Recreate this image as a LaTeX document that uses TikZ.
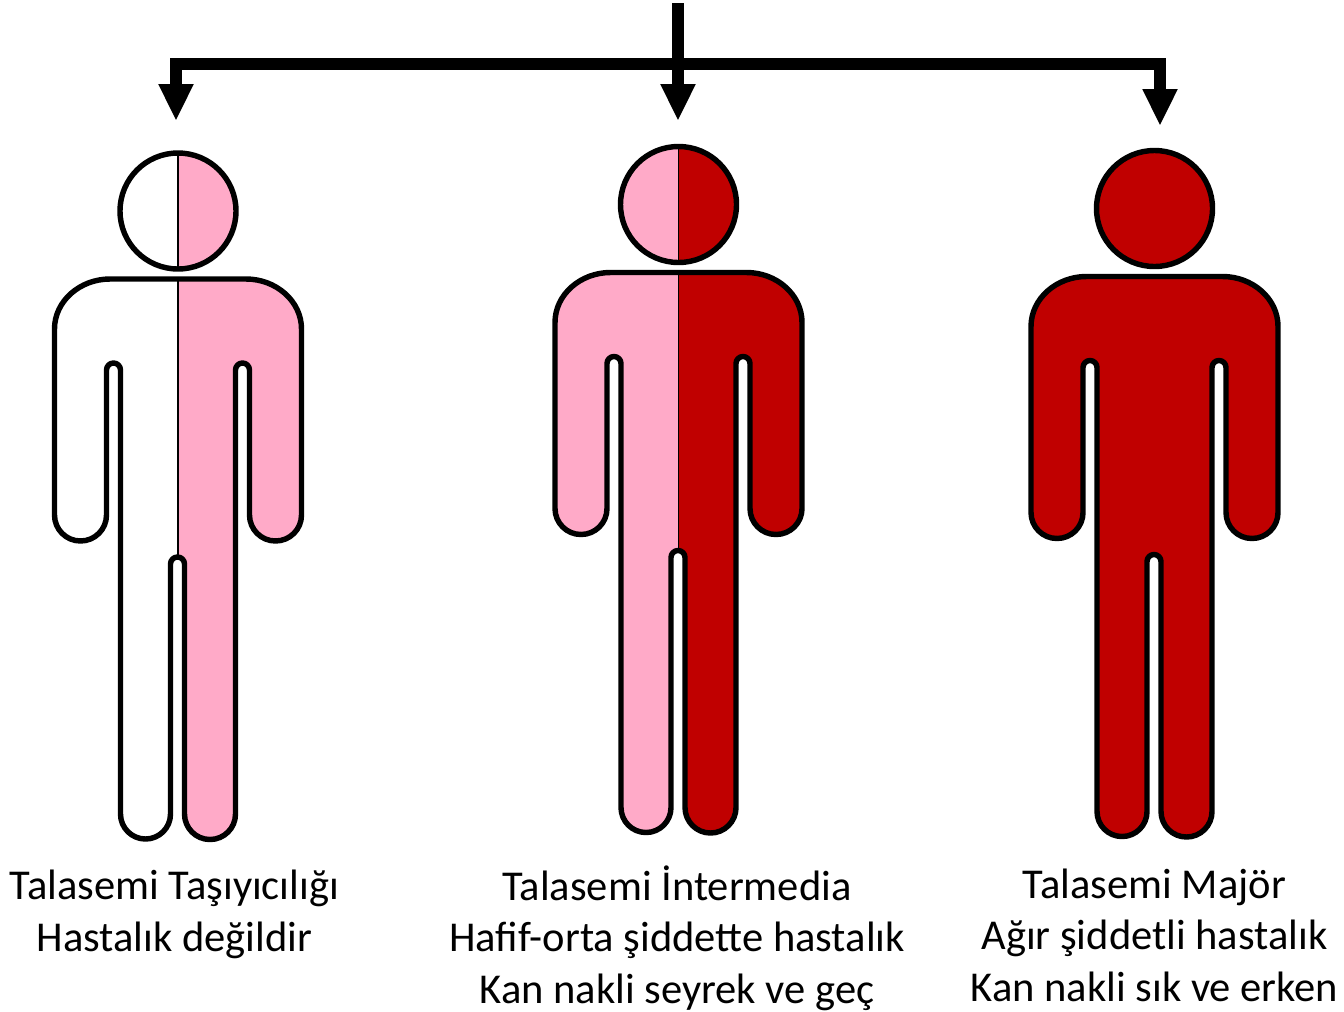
\documentclass[tikz,border=0pt]{standalone}
\usepackage{fontspec}
\setmainfont{Carlito}
\usetikzlibrary{arrows.meta}
\definecolor{carrier}{RGB}{255,170,200}
\definecolor{major}{RGB}{192,0,0}
% outline of a figure around x=0, units are pixels of the 1344 wide picture
\newcommand{\headshape}{(0,211) circle (58)}
\newcommand{\bodyshape}{(-68,279) -- (68,279) .. controls (98,279) and (123.5,301) .. (123.5,329)
  -- (123.5,515) arc (0:180:26) -- (71.5,370) arc (0:-180:7) -- (57.5,814) arc (0:180:25.5)
  -- (6.5,564) arc (0:-180:7) -- (-7.5,814) arc (0:180:25) -- (-57.5,370) arc (0:-180:7)
  -- (-71.5,515) arc (0:180:26) -- (-123.5,329) .. controls (-123.5,301) and (-98,279) .. (-68,279) -- cycle}
\tikzset{
  outline/.style={draw=black,line width=3.1pt,line join=round},
  midline/.style={line width=0.9pt},
  feed/.style={line width=6.9pt,-{Triangle[length=21pt,width=18.5pt]}},
  caption/.style={anchor=north,align=center,inner sep=0pt,font=\fontsize{24.2}{29.3}\selectfont}
}
\begin{document}
\begin{tikzpicture}[x=0.02cm,y=-0.02cm]
  \useasboundingbox (0,0) rectangle (1344,1011);
  % ---- arrows ----
  \coordinate (root) at (678,3);
  \coordinate (split) at (678,64);
  \coordinate (bendl) at (176,64);
  \coordinate (bendr) at (1160,64);
  \coordinate (tipl) at (176,121);
  \coordinate (tipm) at (678,121);
  \coordinate (tipr) at (1160,126);
  \draw[line width=6.9pt] (root) -- (split);
  \draw[feed] (split) -- (tipm);
  \draw[feed] (split) -- (bendl) -- (tipl);
  \draw[feed] (split) -- (bendr) -- (tipr);
  % ---- figures ----
  \foreach \px/\py/\leftc/\rightc/\midc in {178/0/white/carrier/black, 678.5/-6.5/carrier/major/black, 1154.5/-2.5/major/major/major}{
    \begin{scope}[shift={(\px,\py)}]
      \begin{scope}
        \clip (-200,100) rectangle (0,900);
        \fill[\leftc] \headshape \bodyshape;
      \end{scope}
      \begin{scope}
        \clip (0,100) rectangle (200,900);
        \fill[\rightc] \headshape \bodyshape;
      \end{scope}
      \draw[midline,\midc] (0,155) -- (0,268) (0,279) -- (0,557);
      \draw[outline] \headshape;
      \draw[outline] \bodyshape;
    \end{scope}
  }
  % ---- captions ----
  \node[caption] (carriertext) at (174.5,870) {Talasemi Taşıyıcılığı\\Hastalık değildir};
  \node[caption] (intermediatext) at (677,865) {Talasemi İntermedia\\Hafif-orta şiddette hastalık\\Kan nakli seyrek ve geç};
  \node[caption] (majortext) at (1154.5,868.5) {Talasemi Majör\\Ağır şiddetli hastalık\\Kan nakli sık ve erken};
\end{tikzpicture}
\end{document}
